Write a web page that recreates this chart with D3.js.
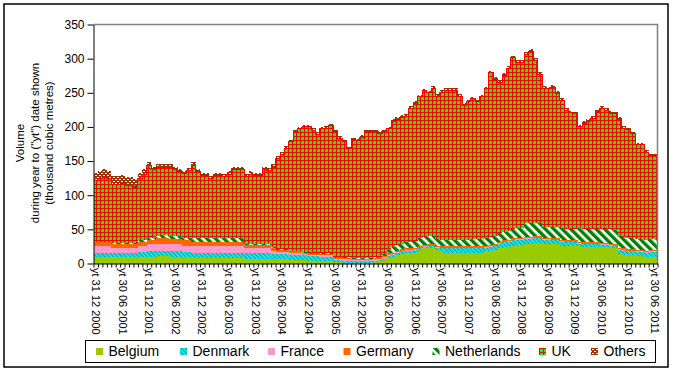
<!DOCTYPE html>
<html><head><meta charset="utf-8">
<script src="https://cdn.jsdelivr.net/npm/d3@7"></script>
<style>
body{margin:0;background:#fff}
svg{display:block;font-family:"Liberation Sans",Arial,sans-serif}
</style>
</head><body>
<svg id="c" width="673" height="371"></svg>
<script>
// ---- data (thousand cubic metres), monthly from yt 31 12 2000 to yt 30 06 2011 ----
const seriesNames = ["Belgium","Denmark","France","Germany","Netherlands","UK","Others"];
const belgium = [10,10,10,10,9,9,9,9,9,9, 10,10,10,10,11,11,11,10,10,10, 9,9,8,8,8,8,8,8,8,8, 8,8,8,8,7,7,7,7,7,7, 6,6,6,6,5,5,5,5,4,4, 4,3,3,3,2,2,1,1,1,1, 1,1,1,2,3,5,8,10,12,14, 15,15,16,20,22,23,23,20,18,16, 15,15,15,15,15,16,16,16,18,19, 20,22,23,24,26,27,27,29,29,30, 30,29,29,28,28,26,25,25,25,25, 24,24,24,24,24,24,23,22,14,13, 12,12,11,11,10,10,10];
const denmark = [6,6,6,6,6,6,6,6,6,6, 7,7,8,8,8,8,8,8,8,8, 8,8,8,8,8,8,8,8,8,8, 8,8,8,8,8,8,8,8,8,8, 8,8,8,8,8,8,8,7,7,7, 7,7,7,7,3,3,3,3,2,2, 2,2,2,2,2,2,3,3,4,4, 4,4,4,2,2,2,2,3,4,6, 7,7,7,7,7,6,6,6,5,5, 5,7,8,8,8,8,8,7,7,7, 7,6,6,6,6,6,6,6,6,4, 4,4,4,4,3,3,3,3,6,6, 6,6,6,6,6,7,7];
const france = [9,9,9,9,8,8,8,8,8,8, 9,9,10,10,10,10,10,10,10,10, 9,9,9,9,9,9,9,9,9,9, 9,9,9,9,7,7,7,7,7,7, 5,3,3,3,2,2,2,2,2,2, 2,2,2,2,2,2,2,2,2,2, 2,2,2,2,2,2,2,1,1,1, 1,1,1,1,1,1,1,1,1,1, 1,1,1,1,1,1,1,1,1,1, 1,1,1,1,1,1,1,1,1,1, 1,1,1,1,1,1,1,1,1,1, 1,1,1,1,1,1,1,1,1,1, 1,1,1,1,1,1,1];
const germany = [6,6,6,6,6,6,6,6,6,6, 6,6,7,7,8,8,8,8,8,8, 8,8,7,7,7,7,7,7,7,7, 7,7,7,7,5,5,5,5,5,5, 4,3,3,3,3,3,3,2,2,2, 2,2,2,2,2,2,2,2,2,2, 2,2,2,2,2,2,2,2,2,2, 2,2,2,2,2,2,2,2,2,2, 2,2,2,2,2,2,2,2,2,2, 2,2,2,2,2,2,2,2,2,2, 2,2,2,2,2,2,2,2,2,2, 2,2,2,2,2,2,2,2,2,2, 2,2,2,2,2,2,2];
const netherlands = [1,1,1,1,1,1,1,1,1,1, 2,2,3,3,4,5,5,5,5,4, 4,4,5,5,5,5,5,5,5,5, 5,5,5,5,1,1,1,1,1,1, 1,1,1,1,1,1,1,1,1,1, 1,1,1,1,1,1,1,1,1,1, 1,1,1,1,1,3,5,8,8,8, 9,9,10,12,12,13,13,10,10,10, 10,10,10,10,10,11,11,11,12,12, 12,12,12,12,14,14,14,20,20,20, 20,16,16,16,16,17,17,17,17,20, 20,20,20,20,21,21,21,21,17,17, 17,17,16,16,16,16,16];
const uk = [89,92,94,92,86,86,87,84,84,82, 91,96,106,99,100,99,99,100,96,94, 94,98,107,97,92,92,87,92,92,90, 94,100,100,100,99,103,101,101,110,108, 117,133,139,148,159,174,178,183,184,179, 173,182,183,187,183,173,169,161,173,172, 177,185,185,184,181,179,177,184,184,185, 185,196,202,207,214,209,216,209,216,219, 219,219,210,197,202,205,201,208,218,240, 230,221,230,239,250,243,243,247,252,238, 217,203,202,205,196,187,173,170,168,148, 154,157,162,171,176,173,170,170,171,159, 158,152,138,138,128,122,122];
const others = [12,12,12,12,12,12,12,12,12,12, 8,8,4,4,4,4,4,4,4,4, 4,4,4,4,4,4,4,4,4,4, 4,4,4,4,4,4,4,4,4,4, 4,3,3,3,3,3,3,3,3,3, 3,3,3,3,3,3,3,0,3,3, 3,3,3,3,3,3,3,3,3,3, 3,3,3,3,3,3,3,3,3,3, 3,3,3,3,3,3,3,3,3,3, 3,3,3,3,3,3,3,3,3,3, 3,3,3,3,3,3,3,3,3,3, 3,3,3,3,3,3,3,3,3,3, 3,3,3,3,3,3,3];
const tickLabels = ["yt 31 12 2000","yt 30 06 2001","yt 31 12 2001","yt 30 06 2002","yt 31 12 2002","yt 30 06 2003","yt 31 12 2003","yt 30 06 2004","yt 31 12 2004","yt 30 06 2005","yt 31 12 2005","yt 30 06 2006","yt 31 12 2006","yt 30 06 2007","yt 31 12 2007","yt 30 06 2008","yt 31 12 2008","yt 30 06 2009","yt 31 12 2009","yt 30 06 2010","yt 31 12 2010","yt 30 06 2011"];
const yTicks = [0,50,100,150,200,250,300,350];
const yTitle = ["Volume","during year to (\"yt\") date shown","(thousand cubic metres)"];

// ---- build ----
const seriesData = [belgium,denmark,france,germany,netherlands,uk,others];
const n = belgium.length;
const rows = d3.range(n).map(i => Object.fromEntries(seriesNames.map((k,j)=>[k, seriesData[j][i]])));
const stacked = d3.stack().keys(seriesNames)(rows);

const svg = d3.select("#c");
const m = {l:93.5, r:657.5, t:24.5, b:263.5};
const xl = d3.scaleLinear().domain([0,n]).range([m.l,m.r]);
const y = d3.scaleLinear().domain([0,350]).range([m.b,m.t]);

// patterns
const defs = svg.append("defs");
const pUk = defs.append("pattern").attr("id","pUk").attr("patternUnits","userSpaceOnUse").attr("width",4).attr("height",4);
pUk.append("rect").attr("width",4).attr("height",4).attr("fill","#00FF00");
pUk.append("rect").attr("width",4).attr("height",1).attr("fill","#FF0000");
pUk.append("rect").attr("width",1).attr("height",4).attr("fill","#FF0000");

const pOt = defs.append("pattern").attr("id","pOt").attr("patternUnits","userSpaceOnUse").attr("width",4).attr("height",4);
pOt.append("rect").attr("width",4).attr("height",4).attr("fill","#993300");
pOt.append("rect").attr("x",1).attr("y",1).attr("width",2).attr("height",1).attr("fill","#fff");
pOt.append("rect").attr("x",3).attr("y",3).attr("width",1).attr("height",1).attr("fill","#fff");
pOt.append("rect").attr("x",0).attr("y",3).attr("width",1).attr("height",1).attr("fill","#fff");

const pNl = defs.append("pattern").attr("id","pNl").attr("patternUnits","userSpaceOnUse").attr("width",6).attr("height",6).attr("patternTransform","rotate(-45)");
pNl.append("rect").attr("width",6).attr("height",6).attr("fill","#fff");
pNl.append("rect").attr("width",3.4).attr("height",6).attr("fill","#008000");

const pDk = defs.append("pattern").attr("id","pDk").attr("patternUnits","userSpaceOnUse").attr("width",3).attr("height",3).attr("patternTransform","rotate(-45)");
pDk.append("rect").attr("width",3).attr("height",3).attr("fill","#00FFFF");
pDk.append("rect").attr("width",1.4).attr("height",3).attr("fill","#339999");

const fills = {Belgium:"#99CC00",Denmark:"url(#pDk)",France:"#FF99CC",Germany:"#FF6600",Netherlands:"url(#pNl)",UK:"url(#pUk)",Others:"url(#pOt)"};

const area = d3.area().x(d=>d.x).y0(d=>y(d.y0)).y1(d=>y(d.y1)).curve(d3.curveStepAfter);
function pts(layer){
  const p = layer.map((d,i)=>({x:xl(i), y0:d[0], y1:d[1]}));
  const last = p[p.length-1];
  p.push({x:xl(n), y0:last.y0, y1:last.y1});
  return p;
}
svg.append("g").selectAll("path").data(stacked).join("path")
  .attr("d", s => area(pts(s)))
  .attr("fill", s => fills[s.key])
  .attr("shape-rendering","crispEdges");

// UK top red edge
const ukLayer = stacked.find(s=>s.key==="UK");
svg.append("path")
  .attr("d", d3.line().x(d=>d.x).y(d=>y(d.y1)).curve(d3.curveStepAfter)(pts(ukLayer)))
  .attr("fill","none").attr("stroke","#FF0000").attr("stroke-width",1).attr("shape-rendering","crispEdges");

// plot border (top/right grey)
svg.append("path").attr("d",`M${m.l},${m.t}H${m.r}V${m.b}`).attr("fill","none").attr("stroke","#808080").attr("stroke-width",1.5);

// y axis
const gy = svg.append("g").attr("transform",`translate(${m.l},0)`)
  .call(d3.axisLeft(y).tickValues(yTicks).tickSize(6).tickSizeOuter(0).tickPadding(3));
gy.selectAll("path,line").attr("stroke","#000");
gy.selectAll("text").attr("font-size","12px").attr("fill","#000").attr("font-family","Liberation Sans, Arial, sans-serif");

// x axis
const gx = svg.append("g").attr("transform",`translate(0,${m.b})`)
  .call(d3.axisBottom(xl).tickValues(d3.range(n+1)).tickSize(4).tickSizeOuter(0).tickFormat(""));
gx.selectAll("path,line").attr("stroke","#000");

svg.append("g").selectAll("text").data(tickLabels).join("text")
  .attr("transform",(d,k)=>`translate(${xl(k*6+0.5)},268) rotate(90)`)
  .attr("dy","0.35em").attr("font-size","11px").attr("fill","#000").text(d=>d);

// y title
const tx = [20,35,49];
svg.append("g").selectAll("text").data(yTitle).join("text")
  .attr("transform",(d,k)=>`translate(${tx[k]},143) rotate(-90)`)
  .attr("text-anchor","middle").attr("dy","0.35em").attr("font-size","11.5px").attr("fill","#000").text(d=>d);

// legend
svg.append("rect").attr("x",85.5).attr("y",340.5).attr("width",570).attr("height",22).attr("fill","#fff").attr("stroke","#000").attr("stroke-width",1);
const legX = [96,180,268,343.5,432.5,539,591];
const lg = svg.append("g").selectAll("g").data(seriesNames).join("g")
  .attr("transform",(d,k)=>`translate(${legX[k]},0)`);
lg.append("rect").attr("x",0).attr("y",348).attr("width",7).attr("height",7).attr("fill",d=>fills[d]);
lg.append("text").attr("x",12.5).attr("y",355.7).attr("font-size","14px").attr("fill","#000").text(d=>d);

// outer border
svg.append("rect").attr("x",4).attr("y",4).attr("width",664).attr("height",363).attr("fill","none").attr("stroke","#000").attr("stroke-width",1.5);
</script>
</body></html>
